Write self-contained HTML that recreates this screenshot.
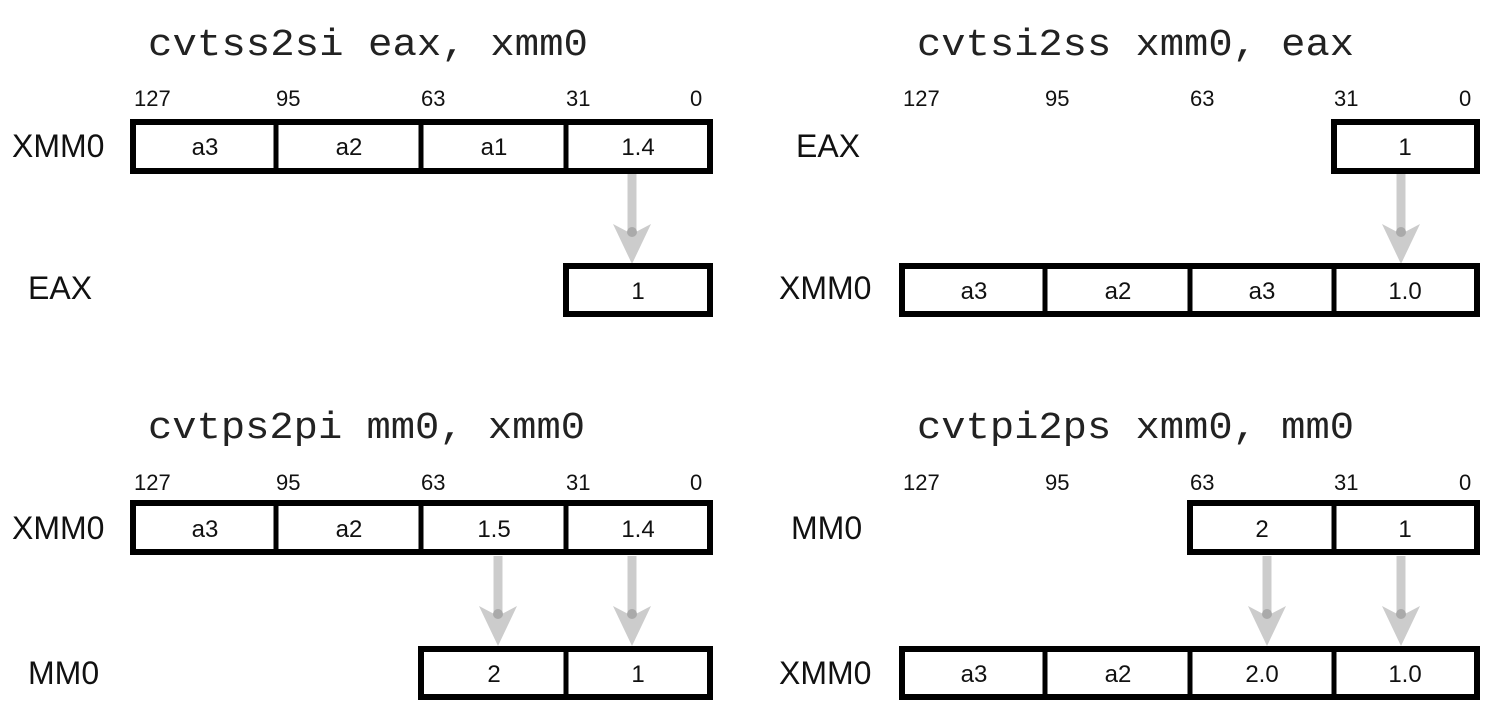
<!DOCTYPE html>
<html><head><meta charset="utf-8"><style>
html,body{margin:0;padding:0;background:#fff;}
svg{display:block;}
.t{font-family:"Liberation Mono",monospace;font-size:38px;fill:#222;}
.n{font-family:"Liberation Sans",sans-serif;font-size:22px;fill:#111;}
.c{font-family:"Liberation Sans",sans-serif;font-size:24px;fill:#111;text-anchor:middle;}
.l{font-family:"Liberation Sans",sans-serif;font-size:32px;fill:#111;}
.b{fill:#fff;stroke:#000;stroke-width:6;}
.d{stroke:#000;stroke-width:5;}
.a{fill:#cccccc;}
.al{stroke:#cccccc;stroke-width:9;}
</style></head><body>
<svg width="1500" height="720" viewBox="0 0 1500 720" xmlns="http://www.w3.org/2000/svg">
<defs>
<g id="arr">
<line class="al" x1="0" y1="0" x2="0" y2="56"/>
<polygon class="a" points="-19,50 0,60 19,50 0,90"/>
<circle cx="0" cy="58" r="5" fill="#aaaaaa"/>
</g>
</defs>

<text class="t" x="148" y="55" textLength="440" lengthAdjust="spacingAndGlyphs">cvtss2si eax, xmm0</text>
<text class="n" x="134" y="106">127</text><text class="n" x="276" y="106">95</text><text class="n" x="421" y="106">63</text><text class="n" x="566" y="106">31</text><text class="n" x="690" y="106">0</text>
<text class="l" x="12" y="157">XMM0</text>
<rect class="b" x="133" y="122" width="577" height="49"/>
<line class="d" x1="276" y1="122" x2="276" y2="171"/><line class="d" x1="421" y1="122" x2="421" y2="171"/><line class="d" x1="566" y1="122" x2="566" y2="171"/>
<text class="c" x="205" y="155">a3</text><text class="c" x="349" y="155">a2</text><text class="c" x="494" y="155">a1</text><text class="c" x="638" y="155">1.4</text>
<use href="#arr" x="632" y="174"/>
<text class="l" x="28" y="299">EAX</text>
<rect class="b" x="566" y="266" width="144" height="48"/>
<text class="c" x="638" y="299">1</text>

<text class="t" x="917" y="55" textLength="437" lengthAdjust="spacingAndGlyphs">cvtsi2ss xmm0, eax</text>
<text class="n" x="903" y="106">127</text><text class="n" x="1045" y="106">95</text><text class="n" x="1190" y="106">63</text><text class="n" x="1334" y="106">31</text><text class="n" x="1459" y="106">0</text>
<text class="l" x="796" y="157">EAX</text>
<rect class="b" x="1334" y="122" width="143" height="49"/>
<text class="c" x="1405" y="155">1</text>
<use href="#arr" x="1401" y="174"/>
<text class="l" x="779" y="299">XMM0</text>
<rect class="b" x="902" y="266" width="575" height="48"/>
<line class="d" x1="1045" y1="266" x2="1045" y2="314"/><line class="d" x1="1190" y1="266" x2="1190" y2="314"/><line class="d" x1="1334" y1="266" x2="1334" y2="314"/>
<text class="c" x="974" y="299">a3</text><text class="c" x="1118" y="299">a2</text><text class="c" x="1262" y="299">a3</text><text class="c" x="1405" y="299">1.0</text>

<text class="t" x="148" y="438" textLength="437" lengthAdjust="spacingAndGlyphs">cvtps2pi mm0, xmm0</text>
<text class="n" x="134" y="490">127</text><text class="n" x="276" y="490">95</text><text class="n" x="421" y="490">63</text><text class="n" x="566" y="490">31</text><text class="n" x="690" y="490">0</text>
<text class="l" x="12" y="539">XMM0</text>
<rect class="b" x="133" y="503" width="577" height="49"/>
<line class="d" x1="276" y1="503" x2="276" y2="552"/><line class="d" x1="421" y1="503" x2="421" y2="552"/><line class="d" x1="566" y1="503" x2="566" y2="552"/>
<text class="c" x="205" y="537">a3</text><text class="c" x="349" y="537">a2</text><text class="c" x="494" y="537">1.5</text><text class="c" x="638" y="537">1.4</text>
<use href="#arr" x="498" y="556"/>
<use href="#arr" x="632" y="556"/>
<text class="l" x="28" y="684">MM0</text>
<rect class="b" x="421" y="649" width="289" height="48"/>
<line class="d" x1="566" y1="649" x2="566" y2="697"/>
<text class="c" x="494" y="682">2</text><text class="c" x="638" y="682">1</text>

<text class="t" x="917" y="438" textLength="437" lengthAdjust="spacingAndGlyphs">cvtpi2ps xmm0, mm0</text>
<text class="n" x="903" y="490">127</text><text class="n" x="1045" y="490">95</text><text class="n" x="1190" y="490">63</text><text class="n" x="1334" y="490">31</text><text class="n" x="1459" y="490">0</text>
<text class="l" x="791" y="539">MM0</text>
<rect class="b" x="1190" y="503" width="287" height="49"/>
<line class="d" x1="1334" y1="503" x2="1334" y2="552"/>
<text class="c" x="1262" y="537">2</text><text class="c" x="1405" y="537">1</text>
<use href="#arr" x="1267" y="556"/>
<use href="#arr" x="1401" y="556"/>
<text class="l" x="779" y="684">XMM0</text>
<rect class="b" x="902" y="649" width="575" height="48"/>
<line class="d" x1="1045" y1="649" x2="1045" y2="697"/><line class="d" x1="1190" y1="649" x2="1190" y2="697"/><line class="d" x1="1334" y1="649" x2="1334" y2="697"/>
<text class="c" x="974" y="682">a3</text><text class="c" x="1118" y="682">a2</text><text class="c" x="1262" y="682">2.0</text><text class="c" x="1405" y="682">1.0</text>
</svg>
</body></html>
